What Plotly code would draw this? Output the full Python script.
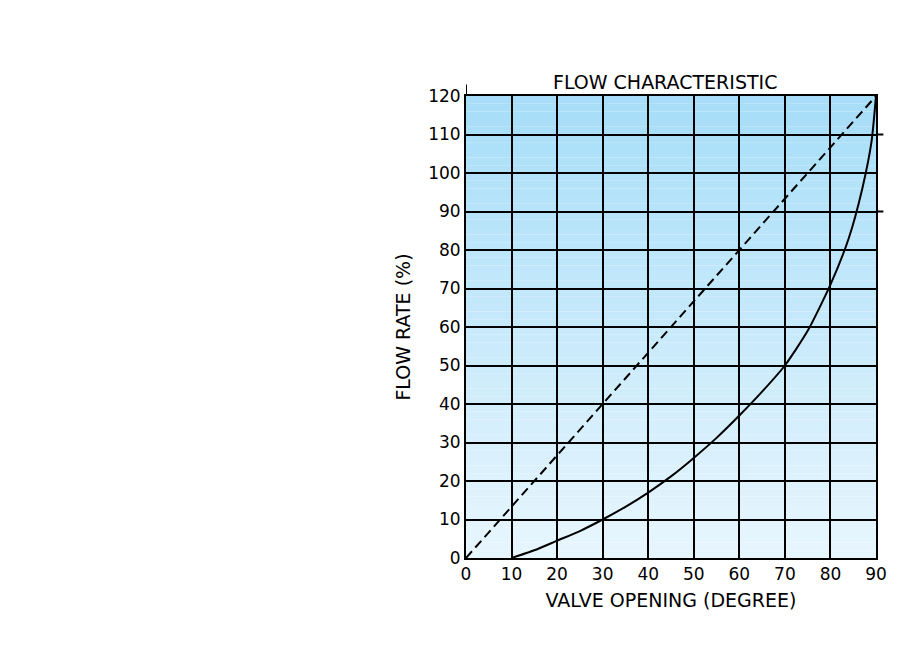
import plotly.graph_objects as go

linear_x = [0, 90]
linear_y = [0, 120]
curve_x = [10, 15, 20, 25, 30, 35, 40, 45, 50, 55, 60, 65, 70, 75, 80, 84, 87, 89, 90]
curve_y = [0, 2, 4.5, 7, 10, 13.3, 17, 21.2, 26, 31.2, 37, 43.2, 50, 59, 71, 83, 96, 108, 120]
x_ticks = [0, 10, 20, 30, 40, 50, 60, 70, 80, 90]
y_ticks = [0, 10, 20, 30, 40, 50, 60, 70, 80, 90, 100, 110, 120]

def mix(t):
    a = (232, 246, 253); b = (166, 221, 248)
    return "rgb(%d,%d,%d)" % tuple(round(a[i] + (b[i] - a[i]) * t) for i in range(3))

n = 60
shapes = [dict(type="rect", xref="paper", yref="paper", x0=0, x1=1, y0=i / n, y1=(i + 1) / n,
               fillcolor=mix((i + 0.5) / n), line=dict(width=0), layer="below") for i in range(n)]
shapes += [
    dict(type="line", xref="paper", yref="y", x0=1, x1=1.018, y0=90, y1=90, line=dict(color="black", width=2)),
    dict(type="line", xref="paper", yref="y", x0=1, x1=1.018, y0=110, y1=110, line=dict(color="black", width=2)),
    dict(type="line", xref="x", yref="paper", x0=0, x1=0, y0=1, y1=1.025, line=dict(color="black", width=2)),
]

fig = go.Figure()
fig.add_trace(go.Scatter(x=linear_x, y=linear_y, mode="lines",
                         line=dict(color="black", width=2, dash="9px,5px"), showlegend=False))
fig.add_trace(go.Scatter(x=curve_x, y=curve_y, mode="lines", line_shape="spline",
                         line=dict(color="black", width=2, smoothing=0.6), showlegend=False))

font = dict(family="DejaVu Sans", size=17, color="black")
tfont = dict(family="DejaVu Sans", size=19, color="black")
fig.update_layout(
    width=909, height=645, paper_bgcolor="white", plot_bgcolor="white",
    margin=dict(l=458, r=41, t=88, b=95),
    title=dict(text="FLOW CHARACTERISTIC", x=0.723, y=0.895, xanchor="center", font=tfont),
    xaxis=dict(range=[0, 90], tickvals=x_ticks, showgrid=True, gridcolor="black", gridwidth=2,
               zeroline=False, showline=True, linecolor="black", linewidth=2, mirror=True,
               tickfont=font, ticks="", title=dict(text="VALVE OPENING (DEGREE)", font=tfont, standoff=10)),
    yaxis=dict(range=[0, 120], tickvals=y_ticks, showgrid=True, gridcolor="black", gridwidth=2,
               zeroline=False, showline=True, linecolor="black", linewidth=2, mirror=True,
               tickfont=font, ticks="", title=dict(text="FLOW RATE (%)", font=tfont, standoff=12)),
    shapes=shapes,
)
fig.write_html("out.html")
